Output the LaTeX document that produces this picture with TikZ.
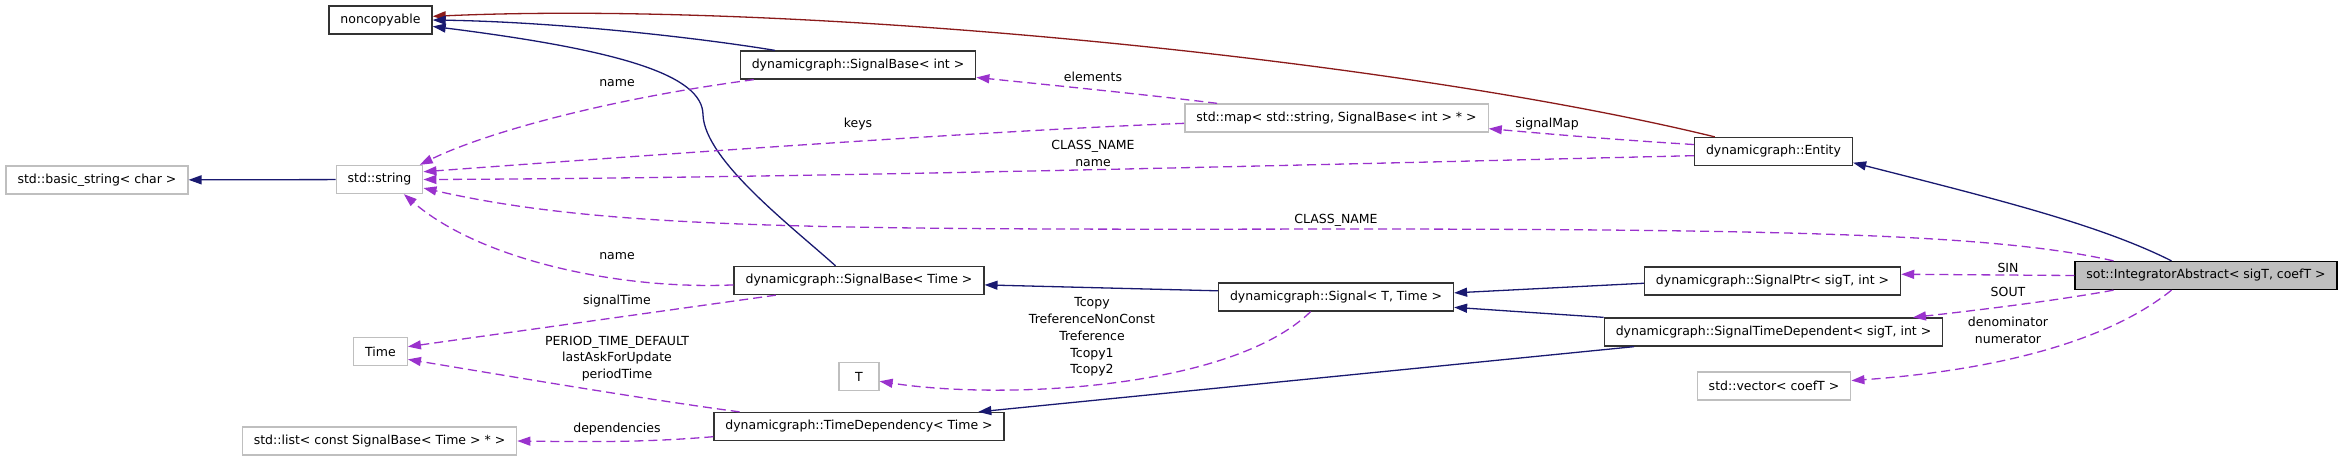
\documentclass[tikz,border=0pt]{standalone}
\usepackage{fontspec}
\setmainfont{DejaVu Sans}
\usetikzlibrary{arrows.meta}

\definecolor{midnight}{HTML}{191970}
\definecolor{firebrick}{HTML}{8B1A1A}
\definecolor{orchid}{HTML}{9A32CD}
\definecolor{grey75}{HTML}{BFBFBF}
\newcommand{\dgfont}{\fontsize{12.5}{16.8}\selectfont}

\tikzset{
    cls/.style={
        draw=black!80,
        fill=white,
        line width=1.3pt,
        minimum height=28pt,
        inner xsep=11.5pt,
        inner ysep=0pt,
        font=\dgfont
    },
    ext/.style={cls, draw=grey75},
    focus/.style={cls, draw=black, fill=grey75},
    inherit/.style={-{Triangle[length=13pt,width=9pt]}, line width=1.3pt, draw=midnight},
    privinherit/.style={inherit, draw=firebrick},
    usage/.style={-{Triangle[length=13pt,width=9pt]}, line width=1.3pt, draw=orchid, dash pattern=on 9pt off 5pt},
    lbl/.style={font=\dgfont, align=center, inner sep=0pt}
}

\begin{document}
\begin{tikzpicture}[x=1pt, y=-1pt]
\useasboundingbox (0,0) rectangle (2344,459);

% classes
\node[cls] (noncopy) at (380.5,20) {noncopyable};
\node[ext] (bstr) at (97,180) {std::basic\_string< char >};
\node[ext] (str) at (379.5,179.5) {std::string};
\node[ext] (time) at (380.5,351.5) {Time};
\node[ext] (list) at (379.5,441) {std::list< const SignalBase< Time > * >};
\node[cls] (sbint) at (858,65) {dynamicgraph::SignalBase< int >};
\node[cls] (sbtime) at (859,280.5) {dynamicgraph::SignalBase< Time >};
\node[ext, minimum width=40pt] (tnode) at (859,376.5) {T};
\node[cls] (tdep) at (859,426.5) {dynamicgraph::TimeDependency< Time >};
\node[ext] (map) at (1336.5,118) {std::map< std::string, SignalBase< int > * >};
\node[cls] (signal) at (1336,297) {dynamicgraph::Signal< T, Time >};
\node[cls] (ent) at (1773.5,151.5) {dynamicgraph::Entity};
\node[cls] (sigptr) at (1772.5,281) {dynamicgraph::SignalPtr< sigT, int >};
\node[cls] (stdep) at (1773.5,332) {dynamicgraph::SignalTimeDependent< sigT, int >};
\node[ext] (vec) at (1774,386) {std::vector< coefT >};
\node[focus] (integ) at (2206,275.5) {sot::IntegratorAbstract< sigT, coefT >};

\coordinate (bend1) at (703,115);
\coordinate (bend2) at (1336,229);

% inheritance
\draw[privinherit] (ent.166) .. controls (1400,60) and (800,0) .. (noncopy.4);
\draw[inherit] (sbint.170) .. controls (700,38) and (560,22) .. (noncopy.east);
\draw[inherit] (sbtime.148) .. controls (790,225) and (705,160) .. (bend1)
    .. controls (703,75) and (620,50) .. (noncopy.-7);
\draw[inherit] (str) -- (bstr);
\draw[inherit] (signal.177) -- (sbtime.-2);
\draw[inherit] (sigptr.181) -- (signal.2);
\draw[inherit] (stdep.north west) -- (signal.-5);
\draw[inherit] (stdep.186) -- (tdep.7);
\draw[inherit] (integ.157) .. controls (2100,225) and (2000,200) .. (ent.-8);

% members
\draw[usage] (sbint.188) .. controls (600,100) and (480,135) .. (str.20);
\draw[usage] (map.182) .. controls (1000,130) and (650,155) .. (str.10);
\draw[usage] (ent.183) .. controls (1300,165) and (800,178) .. (str.east);
\draw[usage] (integ.171) .. controls (2000,235) and (1800,229) .. (bend2)
    .. controls (800,230) and (600,228) .. (str.-11);
\draw[usage] (sbtime.182) .. controls (620,290) and (480,260) .. (str.-31);
\draw[usage] (sbtime.190) -- (time.10);
\draw[usage] (tdep.173) .. controls (650,400) and (520,378) .. (time.-16);
\draw[usage] (tdep.184) .. controls (650,442) and (600,442) .. (list.east);
\draw[usage] (signal.210) .. controls (1230,390) and (1000,400) .. (tnode.-13);
\draw[usage] (integ.west) -- (sigptr.3);
\draw[usage] (integ.189) .. controls (2060,300) and (1980,310) .. (stdep.6);
\draw[usage] (integ.203) .. controls (2110,340) and (2000,370) .. (vec.4);
\draw[usage] (ent.175) .. controls (1620,140) and (1560,135) .. (map.-4);
\draw[usage] (map.173) .. controls (1150,95) and (1050,85) .. (sbint.-6);

% member names
\node[lbl] (lname1) at (617,83) {name};
\node[lbl] (lkeys) at (858,124) {keys};
\node[lbl] (lclass1) at (1093,153.5) {CLASS\_NAME\\name};
\node[lbl] (lclass2) at (1336,220) {CLASS\_NAME};
\node[lbl] (lname2) at (617,256) {name};
\node[lbl] (lsigtime) at (617,301) {signalTime};
\node[lbl] (lperiod) at (617,358.5) {PERIOD\_TIME\_DEFAULT\\lastAskForUpdate\\periodTime};
\node[lbl] (ldeps) at (617,429) {dependencies};
\node[lbl] (ltcopy) at (1092,337) {Tcopy\\TreferenceNonConst\\Treference\\Tcopy1\\Tcopy2};
\node[lbl] (lsin) at (2008,268) {SIN};
\node[lbl] (lsout) at (2008,292) {SOUT};
\node[lbl] (lcoef) at (2008,330) {denominator\\numerator};
\node[lbl] (lsigmap) at (1547,124) {signalMap};
\node[lbl] (lelem) at (1093,77) {elements};

\end{tikzpicture}
\end{document}
